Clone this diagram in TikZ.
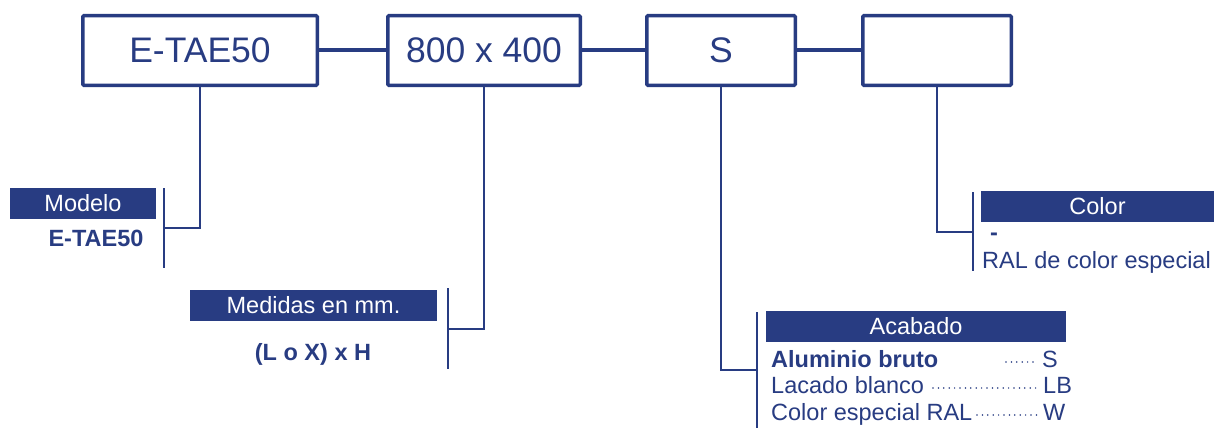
\documentclass[tikz,border=0pt]{standalone}
\usepackage{fontspec}
\setmainfont{Liberation Sans}
\definecolor{navy}{HTML}{283C82}
\begin{document}
\begin{tikzpicture}[x=1pt,y=1pt,
  codebox/.style={draw=navy,line width=3.5pt,rounded corners=1pt,minimum height=69.5pt,inner sep=0pt,
    text=navy,font=\fontsize{35.5}{40}\selectfont},
  hdr/.style={fill=navy,text=white,inner sep=0pt,minimum height=31pt,font=\fontsize{23.5}{28}\selectfont},
  txt/.style={text=navy,inner sep=0pt,font=\fontsize{23.5}{28}\selectfont},
  btxt/.style={txt,font=\fontsize{23.5}{28}\selectfont\bfseries},
  link/.style={draw=navy,line width=4pt},
  thin/.style={draw=navy,line width=2pt},
  dots/.style={draw=navy,line width=1.7pt,line cap=round,dash pattern=on 0pt off 5.4pt}]
\useasboundingbox (0,0) rectangle (1214,-428);
% code boxes
\node[codebox,minimum width=234.5pt] (b1) at (200,-50.5) {E-TAE50};
\node[codebox,minimum width=192.5pt] (b2) at (484,-50.5) {800 x 400};
\node[codebox,minimum width=148.5pt] (b3) at (721,-50.5) {S};
\node[codebox,minimum width=148.5pt] (b4) at (937,-50.5) {};
\draw[link] (b1.east) -- (b2.west);
\draw[link] (b2.east) -- (b3.west);
\draw[link] (b3.east) -- (b4.west);
% Modelo
\node[hdr,minimum width=146pt] (h1) at (83,-203) {Modelo};
\node[btxt] (t1) at (96,-238) {E-TAE50};
\coordinate (v1t) at (164,-188);
\coordinate (v1b) at (164,-268);
\coordinate (v1m) at (164,-228);
\draw[thin] (v1t) -- (v1b);
\draw[thin] (b1.south) |- (v1m);
% Medidas
\node[hdr,minimum width=247pt] (h2) at (313.5,-305.5) {Medidas en mm.};
\node[btxt] (t2) at (313,-354) {(L o X) x H};
\coordinate (v2t) at (448,-288);
\coordinate (v2b) at (448,-369);
\coordinate (v2m) at (448,-329);
\draw[thin] (v2t) -- (v2b);
\draw[thin] (b2.south) |- (v2m);
% Acabado
\node[hdr,minimum width=300pt] (h3) at (916,-326.5) {Acabado};
\node[btxt,anchor=base west] (r1) at (771,-367) {Aluminio bruto};
\node[txt,anchor=base west] (r2) at (771,-393) {Lacado blanco};
\node[txt,anchor=base west] (r3) at (771,-420) {Color especial RAL};
\node[txt,anchor=base west] (c1) at (1042,-367) {S};
\node[txt,anchor=base west] (c2) at (1043,-393) {LB};
\node[txt,anchor=base west] (c3) at (1043,-420) {W};
\coordinate (d1a) at (1006,-362);
\coordinate (d1b) at (1038,-362);
\coordinate (d2a) at (933,-388);
\coordinate (d2b) at (1038,-388);
\coordinate (d3a) at (977,-415);
\coordinate (d3b) at (1040,-415);
\draw[dots] (d1a) -- (d1b);
\draw[dots] (d2a) -- (d2b);
\draw[dots] (d3a) -- (d3b);
\coordinate (v3t) at (757,-312);
\coordinate (v3b) at (757,-428);
\coordinate (v3m) at (757,-370);
\draw[thin] (v3t) -- (v3b);
\draw[thin] (b3.south) |- (v3m);
% Color
\node[hdr,minimum width=233pt] (h4) at (1097.5,-206.5) {Color};
\node[btxt] (t4) at (994,-237) {-};
\node[txt,anchor=base west] (t5) at (982,-268) {RAL de color especial};
\coordinate (v4t) at (973,-192);
\coordinate (v4b) at (973,-271);
\coordinate (v4m) at (973,-232);
\draw[thin] (v4t) -- (v4b);
\draw[thin] (b4.south) |- (v4m);
\end{tikzpicture}
\end{document}
